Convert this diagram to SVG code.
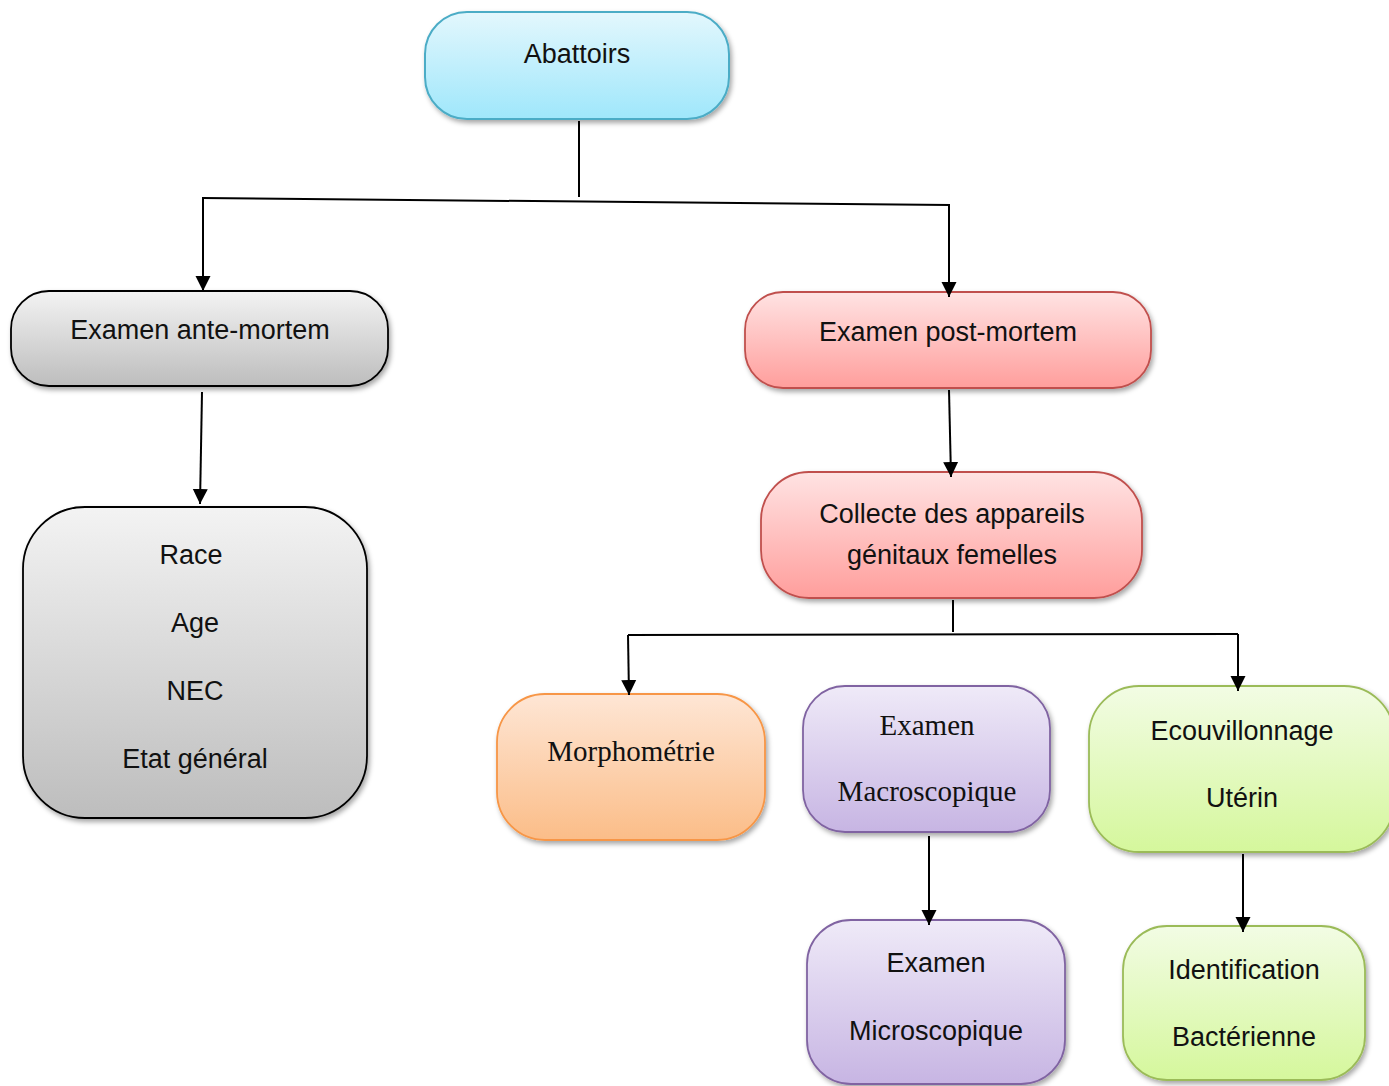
<svg xmlns="http://www.w3.org/2000/svg" width="1389" height="1086" viewBox="0 0 1389 1086">
<defs>
<linearGradient id="gCyan" x1="0" y1="0" x2="0" y2="1"><stop offset="0" stop-color="#e3f7fd"/><stop offset="1" stop-color="#9fe7fb"/></linearGradient>
<linearGradient id="gGray" x1="0" y1="0" x2="0" y2="1"><stop offset="0" stop-color="#f3f3f3"/><stop offset="1" stop-color="#bdbdbd"/></linearGradient>
<linearGradient id="gRed" x1="0" y1="0" x2="0" y2="1"><stop offset="0" stop-color="#ffe3e3"/><stop offset="1" stop-color="#ff9e9c"/></linearGradient>
<linearGradient id="gOrange" x1="0" y1="0" x2="0" y2="1"><stop offset="0" stop-color="#fee6d5"/><stop offset="1" stop-color="#fbbd88"/></linearGradient>
<linearGradient id="gPurple" x1="0" y1="0" x2="0" y2="1"><stop offset="0" stop-color="#efeaf8"/><stop offset="1" stop-color="#c7b5e3"/></linearGradient>
<linearGradient id="gGreen" x1="0" y1="0" x2="0" y2="1"><stop offset="0" stop-color="#f2fce4"/><stop offset="1" stop-color="#d5f79c"/></linearGradient>
<filter id="sh" x="-10%" y="-10%" width="125%" height="130%"><feDropShadow dx="2" dy="3" stdDeviation="2.5" flood-color="#000" flood-opacity="0.35"/></filter>
<marker id="arr" markerUnits="userSpaceOnUse" markerWidth="18" markerHeight="16" refX="15" refY="8" orient="auto"><path d="M0,0.5 L15,8 L0,15.5 Z" fill="#000"/></marker>
<style>
.sans{font-family:"Liberation Sans",Arial,sans-serif;font-size:27px;fill:#111;text-anchor:middle}
.serif{font-family:"Liberation Serif","Times New Roman",serif;font-size:29px;fill:#111;text-anchor:middle}
.con{stroke:#000;stroke-width:2;fill:none}
</style>
</defs>
<g id="abattoirs">
<rect x="425" y="12" width="304" height="107" rx="42" fill="url(#gCyan)" stroke="#4bacc6" stroke-width="2" filter="url(#sh)"/>
<text class="sans" x="577" y="63">Abattoirs</text>
</g>
<g id="ante-mortem">
<rect x="11" y="291" width="377" height="95" rx="38" fill="url(#gGray)" stroke="#000" stroke-width="1.8" filter="url(#sh)"/>
<text class="sans" x="200" y="339">Examen ante-mortem</text>
</g>
<g id="criteres">
<rect x="23" y="507" width="344" height="311" rx="62" fill="url(#gGray)" stroke="#000" stroke-width="1.8" filter="url(#sh)"/>
<text class="sans" x="191" y="564">Race</text>
<text class="sans" x="195" y="632">Age</text>
<text class="sans" x="195" y="700">NEC</text>
<text class="sans" x="195" y="768">Etat général</text>
</g>
<g id="post-mortem">
<rect x="745" y="292" width="406" height="96" rx="38" fill="url(#gRed)" stroke="#c0504d" stroke-width="1.8" filter="url(#sh)"/>
<text class="sans" x="948" y="341">Examen post-mortem</text>
</g>
<g id="collecte">
<rect x="761" y="472" width="381" height="126" rx="48" fill="url(#gRed)" stroke="#c0504d" stroke-width="1.8" filter="url(#sh)"/>
<text class="sans" x="952" y="523">Collecte des appareils</text>
<text class="sans" x="952" y="564">génitaux femelles</text>
</g>
<g id="morphometrie">
<rect x="497" y="694" width="268" height="146" rx="48" fill="url(#gOrange)" stroke="#f79646" stroke-width="1.8" filter="url(#sh)"/>
<text class="serif" x="631" y="761">Morphométrie</text>
</g>
<g id="macroscopique">
<rect x="803" y="686" width="247" height="146" rx="42" fill="url(#gPurple)" stroke="#8064a2" stroke-width="1.8" filter="url(#sh)"/>
<text class="serif" x="927" y="735">Examen</text>
<text class="serif" x="927" y="801">Macroscopique</text>
</g>
<g id="microscopique">
<rect x="807" y="920" width="258" height="164" rx="44" fill="url(#gPurple)" stroke="#8064a2" stroke-width="1.8" filter="url(#sh)"/>
<text class="sans" x="936" y="972">Examen</text>
<text class="sans" x="936" y="1040">Microscopique</text>
</g>
<g id="ecouvillonnage">
<rect x="1089" y="686" width="305" height="166" rx="50" fill="url(#gGreen)" stroke="#9bbb59" stroke-width="1.8" filter="url(#sh)"/>
<text class="sans" x="1242" y="740">Ecouvillonnage</text>
<text class="sans" x="1242" y="807">Utérin</text>
</g>
<g id="identification">
<rect x="1123" y="926" width="242" height="154" rx="44" fill="url(#gGreen)" stroke="#9bbb59" stroke-width="1.8" filter="url(#sh)"/>
<text class="sans" x="1244" y="979">Identification</text>
<text class="sans" x="1244" y="1046">Bactérienne</text>
</g>
<g id="connectors">
<line class="con" x1="579" y1="121" x2="579" y2="197"/>
<line class="con" x1="202" y1="198" x2="950" y2="205"/>
<line class="con" x1="203" y1="198" x2="203" y2="291" marker-end="url(#arr)"/>
<line class="con" x1="949" y1="205" x2="949" y2="297" marker-end="url(#arr)"/>
<line class="con" x1="202" y1="392" x2="200" y2="504" marker-end="url(#arr)"/>
<line class="con" x1="949" y1="390" x2="951" y2="477" marker-end="url(#arr)"/>
<line class="con" x1="953" y1="600" x2="953" y2="632"/>
<line class="con" x1="628" y1="635" x2="1238" y2="634"/>
<line class="con" x1="628" y1="635" x2="629" y2="695" marker-end="url(#arr)"/>
<line class="con" x1="1238" y1="634" x2="1238" y2="691" marker-end="url(#arr)"/>
<line class="con" x1="929" y1="836" x2="929" y2="925" marker-end="url(#arr)"/>
<line class="con" x1="1243" y1="854" x2="1243" y2="932" marker-end="url(#arr)"/>
</g>
</svg>
